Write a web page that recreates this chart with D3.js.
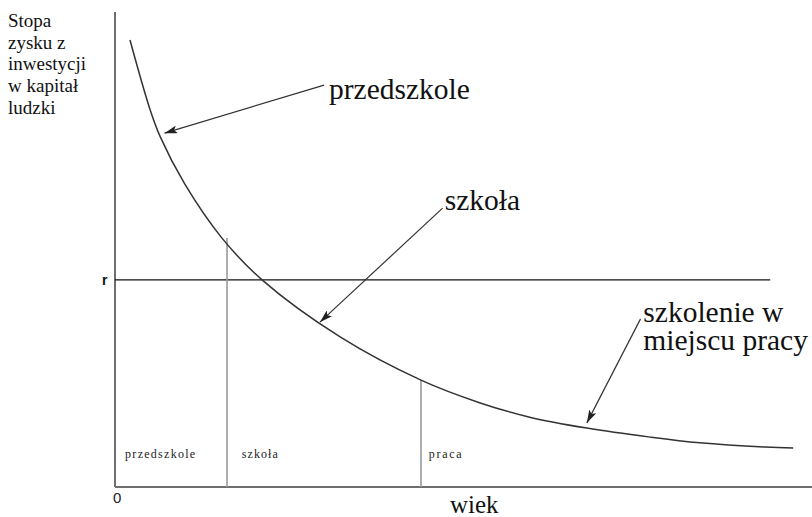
<!DOCTYPE html>
<html><head><meta charset="utf-8">
<script src="https://cdn.jsdelivr.net/npm/d3@7"></script>
<style>html,body{margin:0;padding:0;background:#fff;}svg{display:block;}</style>
</head><body>
<svg id="chart" width="812" height="517"></svg>
<script>
// ---- data (age units 0..100, rate units 0..100) ----
const curveAge  = [2.15, 5.0, 6.5, 10.0, 15.35, 21.1, 32.3, 43.9, 52.4, 59.5, 67.7, 76.8, 83.9, 93.3, 97.3];
const curveRate = [94.1, 79.6, 73.7, 63.8, 52.4, 43.6, 31.6, 22.5, 17.7, 14.7, 12.4, 10.5, 9.3, 8.4, 8.2];
const rLevel = 43.6, rEnd = 94.0;
const stageBoundAge  = [16.07, 43.9];
const stageBoundRate = [52.4, 22.5];
const stageLabels = ["przedszkole", "szkoła", "praca"];
const stageLabelAge = [1.45, 18.2, 45.0];
const stageLabelWidths = [70, 36, 33];
const yTitleLines = ["Stopa", "zysku z", "inwestycji", "w kapitał", "ludzki"];
const annLabels = [["przedszkole"], ["szkoła"], ["szkolenie w", "miejscu pracy"]];
const annTextAge  = [30.7, 47.3, 75.8];
const annTextRate = [81.7, 58.3, 34.7];
const annFromAge  = [30.0, 47.0, 75.4];
const annFromRate = [84.6, 58.7, 35.4];
const annToAge    = [7.1, 29.4, 67.7];
const annToRate   = [74.5, 34.7, 13.5];
const xTitle = "wiek", originLabel = "0", rLabel = "r";

const SERIF = "'Liberation Serif', 'Times New Roman', serif";
const SANS = "'Liberation Sans', Arial, sans-serif";

const svg = d3.select("#chart");
const x = d3.scaleLinear().domain([0, 100]).range([115, 812]);
const y = d3.scaleLinear().domain([0, 100]).range([487, 12]);

svg.append("defs").append("marker")
  .attr("id", "ah").attr("viewBox", "0 0 13 8").attr("refX", 13).attr("refY", 4)
  .attr("markerWidth", 13).attr("markerHeight", 8).attr("markerUnits", "userSpaceOnUse")
  .attr("orient", "auto")
  .append("path").attr("d", "M0,0 L13,4 L0,8 L3,4 Z").attr("fill", "#222");

// axes
svg.append("line").attr("x1", x(0)).attr("x2", x(0)).attr("y1", y(100)).attr("y2", y(0))
  .attr("stroke", "#6e6e6e").attr("stroke-width", 2);
svg.append("line").attr("x1", x(0)).attr("x2", x(100)).attr("y1", y(0)).attr("y2", y(0))
  .attr("stroke", "#6e6e6e").attr("stroke-width", 2);

// r line
svg.append("line").attr("x1", x(0)).attr("x2", x(rEnd)).attr("y1", y(rLevel)).attr("y2", y(rLevel))
  .attr("stroke", "#111").attr("stroke-width", 1.3);

// stage boundaries
stageBoundAge.forEach((a, i) => {
  svg.append("line").attr("x1", x(a)).attr("x2", x(a)).attr("y1", y(stageBoundRate[i])).attr("y2", y(0))
    .attr("stroke", "#9a9a9a").attr("stroke-width", 1.6);
});

// curve
const pts = curveAge.map((a, i) => [a, curveRate[i]]);
svg.append("path").datum(pts)
  .attr("d", d3.line().x(d => x(d[0])).y(d => y(d[1])).curve(d3.curveCatmullRom.alpha(0.5)))
  .attr("fill", "none").attr("stroke", "#333").attr("stroke-width", 1.5);

// y title
svg.append("text").style("font-family", SERIF)
  .attr("font-size", 19).attr("fill", "#111")
  .selectAll("tspan").data(yTitleLines).join("tspan")
  .attr("x", 8).attr("y", (d, i) => 27 + i * 21.7).text(d => d);

// r label
svg.append("text").style("font-family", SANS).attr("x", 102).attr("y", y(rLevel) + 5)
  .attr("font-weight", "bold").attr("font-size", 14).attr("fill", "#111").text(rLabel);

// origin label
svg.append("text").style("font-family", SANS).attr("x", 113).attr("y", 503)
  .attr("font-size", 15).attr("fill", "#222").text(originLabel);

// x title
svg.append("text").style("font-family", SERIF).attr("x", 450).attr("y", 513)
  .attr("font-size", 25).attr("fill", "#111").text(xTitle);

// stage labels
stageLabels.forEach((s, i) => {
  svg.append("text").style("font-family", SERIF).attr("x", x(stageLabelAge[i])).attr("y", 458)
    .attr("font-size", 12).attr("fill", "#222")
    .attr("textLength", stageLabelWidths[i]).attr("lengthAdjust", "spacing")
    .text(s);
});

// annotations
annLabels.forEach((lines, i) => {
  svg.append("line")
    .attr("x1", x(annFromAge[i])).attr("y1", y(annFromRate[i]))
    .attr("x2", x(annToAge[i])).attr("y2", y(annToRate[i]))
    .attr("stroke", "#333").attr("stroke-width", 1.2).attr("marker-end", "url(#ah)");
  svg.append("text").style("font-family", SERIF)
    .attr("font-size", 29.5).attr("fill", "#111")
    .selectAll("tspan").data(lines).join("tspan")
    .attr("x", x(annTextAge[i])).attr("y", (d, j) => y(annTextRate[i]) + j * 28).text(d => d);
});
</script>
</body></html>
